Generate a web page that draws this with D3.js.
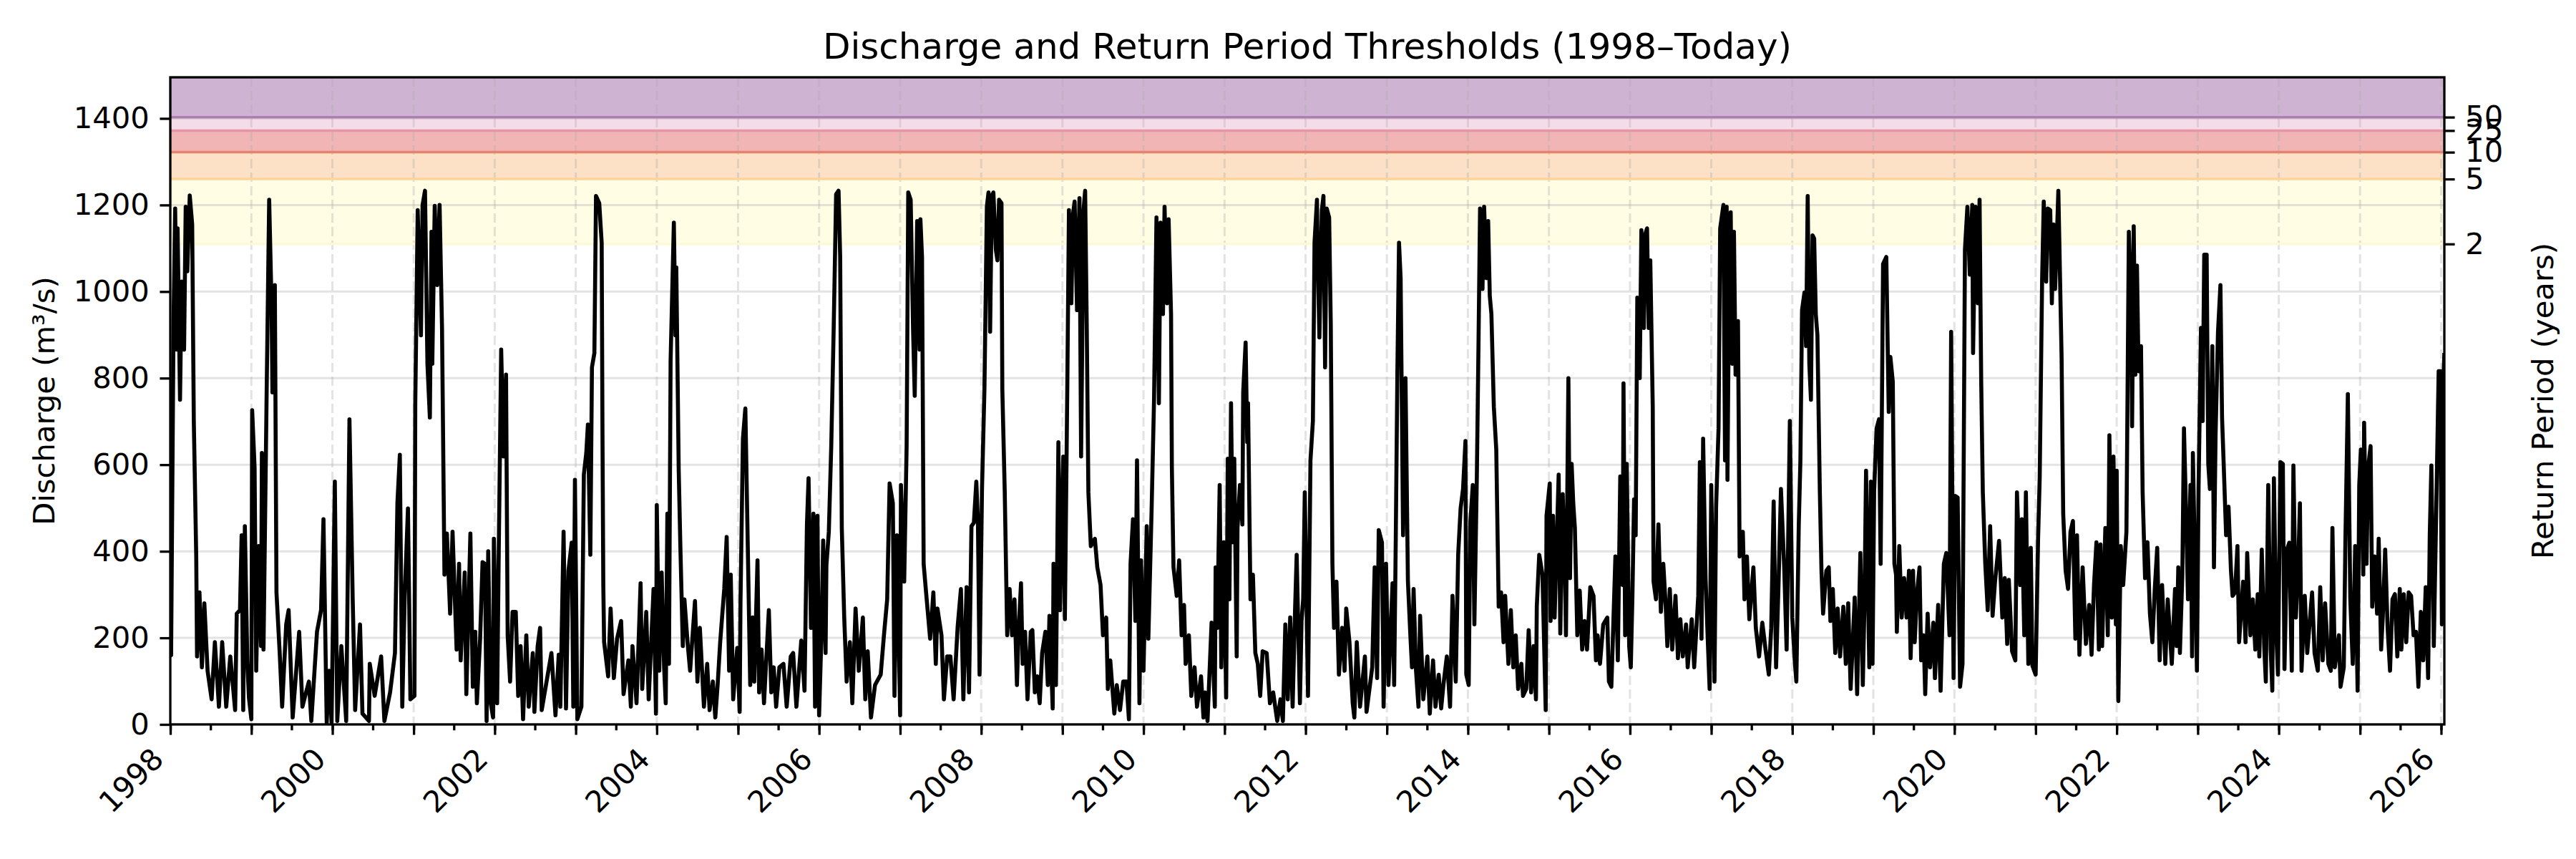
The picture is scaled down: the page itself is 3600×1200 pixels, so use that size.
<!DOCTYPE html>
<html>
<head>
<meta charset="utf-8">
<script src="https://cdn.jsdelivr.net/npm/d3@7"></script>
<style>
  body { margin: 0; background: #fff; }
  text { font-family: "DejaVu Sans", sans-serif; fill: #000; }
</style>
</head>
<body>
<svg id="chart"></svg>
<script>
// return period thresholds (years -> discharge m3/s)
const rpYears = [2, 5, 10, 25, 50];
const rpThresholds = [1110, 1260, 1322, 1372, 1403];
const rpFill = ['#fffde4', '#fce1c6', '#f0b5b4', '#f5dce9', '#cfb3d2'];
const rpLine = ['#fdf9d4', '#ffd39b', '#e8806f', '#e595a6', '#ad7eb4'];

const yMax = 1495;
const yTicks = [0, 200, 400, 600, 800, 1000, 1200, 1400];
const startYear = 1998;

// discharge series, [decimal year, m3/s]
const discharge = [
  [1998.00,400],[1998.01,160],[1998.04,932],[1998.06,1192],[1998.08,866],[1998.09,1146],[1998.12,750],[1998.14,1023],
  [1998.17,866],[1998.19,1196],[1998.21,1047],[1998.24,1222],[1998.27,1155],[1998.29,701],[1998.32,388],[1998.33,157],
  [1998.36,305],[1998.39,132],[1998.42,280],[1998.46,124],[1998.51,58],[1998.55,190],[1998.60,41],[1998.64,190],
  [1998.69,41],[1998.74,157],[1998.80,33],[1998.82,256],[1998.86,264],[1998.88,437],[1998.90,33],[1998.92,458],
  [1998.95,148],[1998.97,62],[1999.00,12],[1999.01,726],[1999.04,594],[1999.06,124],[1999.09,412],[1999.12,181],
  [1999.13,627],[1999.15,173],[1999.19,784],[1999.22,1212],[1999.25,965],[1999.26,767],[1999.29,1015],[1999.31,305],
  [1999.35,165],[1999.38,41],[1999.43,231],[1999.46,264],[1999.51,16],[1999.59,214],[1999.63,41],[1999.71,99],
  [1999.74,8],[1999.81,214],[1999.86,264],[1999.89,474],[1999.93,4],[1999.96,124],[1999.99,4],[2000.03,561],
  [2000.06,8],[2000.11,181],[2000.17,8],[2000.21,705],[2000.25,289],[2000.28,33],[2000.34,231],[2000.37,25],
  [2000.45,8],[2000.46,140],[2000.52,66],[2000.60,157],[2000.64,8],[2000.71,74],[2000.77,165],[2000.80,511],
  [2000.83,623],[2000.86,41],[2000.89,297],[2000.93,499],[2000.96,58],[2001.01,66],[2001.02,742],[2001.05,1188],
  [2001.09,899],[2001.11,1200],[2001.14,1233],[2001.17,833],[2001.20,709],[2001.22,1138],[2001.23,833],[2001.26,1198],
  [2001.29,1015],[2001.32,1200],[2001.35,916],[2001.38,346],[2001.41,441],[2001.45,256],[2001.48,445],[2001.53,173],
  [2001.56,371],[2001.58,148],[2001.63,351],[2001.65,70],[2001.70,441],[2001.73,87],[2001.76,214],[2001.78,49],
  [2001.82,198],[2001.85,375],[2001.88,371],[2001.90,8],[2001.92,400],[2001.95,49],[2001.98,16],[2001.99,429],
  [2002.03,49],[2002.05,400],[2002.08,866],[2002.11,619],[2002.14,808],[2002.16,206],[2002.19,99],[2002.22,260],
  [2002.26,260],[2002.29,66],[2002.32,181],[2002.35,12],[2002.39,206],[2002.42,41],[2002.47,165],[2002.49,29],
  [2002.53,181],[2002.56,223],[2002.58,33],[2002.64,99],[2002.70,165],[2002.75,21],[2002.79,161],[2002.81,41],
  [2002.85,445],[2002.88,37],[2002.91,355],[2002.95,420],[2002.97,41],[2002.99,565],[2003.02,12],[2003.07,41],
  [2003.10,577],[2003.13,627],[2003.15,693],[2003.18,392],[2003.20,825],[2003.23,858],[2003.25,1221],[2003.29,1204],
  [2003.32,1113],[2003.33,668],[2003.34,322],[2003.35,190],[2003.40,111],[2003.43,268],[2003.47,107],[2003.51,198],
  [2003.56,239],[2003.59,70],[2003.65,148],[2003.68,41],[2003.70,181],[2003.75,49],[2003.80,326],[2003.82,82],
  [2003.87,260],[2003.90,58],[2003.96,313],[2003.99,25],[2004.00,507],[2004.03,124],[2004.06,351],[2004.09,132],
  [2004.11,49],[2004.13,487],[2004.15,140],[2004.17,841],[2004.21,1159],[2004.23,899],[2004.24,1056],[2004.27,586],
  [2004.29,412],[2004.32,181],[2004.34,289],[2004.38,186],[2004.41,124],[2004.47,285],[2004.50,99],[2004.53,223],
  [2004.58,41],[2004.62,140],[2004.65,33],[2004.69,99],[2004.72,16],[2004.75,95],[2004.78,190],[2004.83,313],
  [2004.86,433],[2004.89,124],[2004.91,346],[2004.94,58],[2004.99,177],[2005.02,29],[2005.03,280],[2005.06,660],
  [2005.09,730],[2005.12,412],[2005.15,91],[2005.18,247],[2005.20,99],[2005.24,379],[2005.26,74],[2005.29,173],
  [2005.32,49],[2005.38,264],[2005.41,74],[2005.44,132],[2005.47,41],[2005.51,132],[2005.56,140],[2005.60,41],
  [2005.65,157],[2005.68,165],[2005.72,41],[2005.78,194],[2005.82,78],[2005.85,462],[2005.87,569],[2005.90,223],
  [2005.93,487],[2005.95,41],[2005.98,482],[2006.00,21],[2006.03,214],[2006.05,425],[2006.08,165],[2006.09,367],
  [2006.12,445],[2006.15,643],[2006.18,915],[2006.21,1225],[2006.24,1233],[2006.26,1080],[2006.28,454],[2006.31,247],
  [2006.34,99],[2006.38,190],[2006.41,49],[2006.45,268],[2006.49,124],[2006.54,247],[2006.57,58],[2006.60,169],
  [2006.64,16],[2006.69,91],[2006.76,115],[2006.80,206],[2006.84,289],[2006.87,557],[2006.91,511],[2006.93,66],
  [2006.96,437],[2007.00,21],[2007.01,553],[2007.05,330],[2007.08,643],[2007.10,1229],[2007.13,1212],[2007.16,907],
  [2007.18,759],[2007.21,1163],[2007.24,866],[2007.25,1167],[2007.27,1080],[2007.29,371],[2007.32,305],[2007.37,198],
  [2007.41,305],[2007.44,140],[2007.46,268],[2007.51,206],[2007.54,58],[2007.58,157],[2007.62,157],[2007.66,58],
  [2007.71,227],[2007.75,313],[2007.78,58],[2007.82,317],[2007.85,74],[2007.88,458],[2007.91,466],[2007.94,561],
  [2007.96,466],[2007.98,115],[2008.01,544],[2008.04,775],[2008.07,1196],[2008.09,1229],[2008.11,907],[2008.13,1221],
  [2008.15,1229],[2008.18,1097],[2008.20,1072],[2008.22,1212],[2008.25,1204],[2008.26,775],[2008.29,536],[2008.32,206],
  [2008.35,313],[2008.38,206],[2008.41,289],[2008.44,91],[2008.46,214],[2008.49,326],[2008.51,140],[2008.54,214],
  [2008.57,58],[2008.61,214],[2008.63,218],[2008.66,74],[2008.69,111],[2008.72,49],[2008.75,165],[2008.79,214],
  [2008.82,91],[2008.84,251],[2008.88,37],[2008.89,371],[2008.92,91],[2008.95,652],[2008.97,264],[2008.99,454],
  [2009.01,619],[2009.03,243],[2009.06,784],[2009.08,1188],[2009.11,973],[2009.13,1179],[2009.15,1208],[2009.18,957],
  [2009.21,1216],[2009.23,619],[2009.26,1188],[2009.28,1233],[2009.30,916],[2009.32,536],[2009.35,412],[2009.40,429],
  [2009.43,363],[2009.47,322],[2009.50,206],[2009.54,247],[2009.56,82],[2009.59,148],[2009.64,25],[2009.67,91],
  [2009.71,33],[2009.75,99],[2009.79,99],[2009.82,12],[2009.84,371],[2009.87,474],[2009.90,239],[2009.92,610],
  [2009.95,49],[2009.97,379],[2010.00,124],[2010.04,458],[2010.06,198],[2010.10,495],[2010.13,750],[2010.16,1171],
  [2010.19,742],[2010.21,1159],[2010.24,948],[2010.26,1196],[2010.29,973],[2010.31,1167],[2010.34,948],[2010.35,594],
  [2010.37,363],[2010.41,297],[2010.44,379],[2010.47,206],[2010.50,276],[2010.52,140],[2010.56,206],[2010.59,66],
  [2010.63,132],[2010.66,41],[2010.71,111],[2010.74,16],[2010.76,74],[2010.79,8],[2010.84,235],[2010.88,41],
  [2010.89,363],[2010.91,223],[2010.94,553],[2010.96,132],[2010.99,421],[2011.02,62],[2011.04,614],[2011.06,289],
  [2011.08,742],[2011.10,421],[2011.12,614],[2011.15,157],[2011.16,454],[2011.19,553],[2011.22,462],[2011.23,767],
  [2011.26,882],[2011.28,652],[2011.29,742],[2011.32,289],[2011.35,346],[2011.38,165],[2011.41,140],[2011.44,66],
  [2011.47,169],[2011.52,165],[2011.56,49],[2011.60,74],[2011.65,8],[2011.69,58],[2011.72,8],[2011.75,231],
  [2011.78,58],[2011.81,247],[2011.84,41],[2011.87,264],[2011.89,392],[2011.93,49],[2011.95,239],[2011.97,289],
  [2011.99,536],[2012.03,66],[2012.06,610],[2012.09,701],[2012.11,1113],[2012.14,1212],[2012.15,1072],[2012.17,894],
  [2012.20,1188],[2012.22,1221],[2012.24,825],[2012.26,1192],[2012.29,1171],[2012.31,924],[2012.33,371],[2012.35,223],
  [2012.38,330],[2012.41,115],[2012.45,223],[2012.48,124],[2012.50,268],[2012.54,190],[2012.58,49],[2012.60,16],
  [2012.63,190],[2012.67,41],[2012.73,157],[2012.75,29],[2012.82,132],[2012.85,363],[2012.88,107],[2012.90,449],
  [2012.94,420],[2012.96,41],[2012.99,371],[2013.02,91],[2013.07,326],[2013.09,91],[2013.11,429],[2013.13,817],
  [2013.15,1113],[2013.17,1031],[2013.20,437],[2013.23,800],[2013.26,330],[2013.29,206],[2013.31,132],[2013.33,313],
  [2013.36,124],[2013.39,41],[2013.41,251],[2013.45,58],[2013.50,157],[2013.53,25],[2013.57,148],[2013.60,41],
  [2013.64,115],[2013.67,37],[2013.70,95],[2013.74,157],[2013.78,41],[2013.81,297],[2013.85,99],[2013.88,392],
  [2013.91,499],[2013.94,544],[2013.97,655],[2013.98,115],[2014.01,91],[2014.03,466],[2014.06,553],[2014.08,231],
  [2014.11,569],[2014.13,866],[2014.15,1192],[2014.18,1006],[2014.20,1196],[2014.23,1031],[2014.25,1163],[2014.27,990],
  [2014.29,948],[2014.32,734],[2014.35,635],[2014.38,272],[2014.41,305],[2014.44,190],[2014.46,297],[2014.50,140],
  [2014.53,264],[2014.56,132],[2014.59,206],[2014.62,82],[2014.66,140],[2014.68,66],[2014.72,82],[2014.75,218],
  [2014.78,74],[2014.81,181],[2014.84,58],[2014.85,272],[2014.88,392],[2014.92,346],[2014.96,33],[2014.97,482],
  [2015.01,557],[2015.02,239],[2015.05,482],[2015.07,247],[2015.12,577],[2015.14,210],[2015.17,532],[2015.20,330],
  [2015.21,206],[2015.24,800],[2015.26,338],[2015.28,602],[2015.30,511],[2015.32,454],[2015.35,206],[2015.38,309],
  [2015.41,173],[2015.44,239],[2015.47,173],[2015.51,317],[2015.55,297],[2015.58,148],[2015.60,206],[2015.63,140],
  [2015.67,231],[2015.72,247],[2015.74,99],[2015.77,87],[2015.79,206],[2015.82,388],[2015.85,148],[2015.88,573],
  [2015.91,322],[2015.92,788],[2015.94,206],[2015.96,602],[2015.99,181],[2016.01,132],[2016.03,297],[2016.05,520],
  [2016.07,437],[2016.09,986],[2016.12,800],[2016.14,1142],[2016.17,916],[2016.19,1134],[2016.21,1146],[2016.23,916],
  [2016.25,1072],[2016.28,734],[2016.29,330],[2016.32,289],[2016.35,462],[2016.38,260],[2016.41,371],[2016.44,272],
  [2016.46,181],[2016.49,313],[2016.52,173],[2016.56,297],[2016.59,153],[2016.62,243],[2016.65,157],[2016.69,231],
  [2016.71,132],[2016.76,243],[2016.79,132],[2016.84,297],[2016.86,606],[2016.88,198],[2016.90,660],[2016.93,338],
  [2016.96,181],[2016.98,82],[2017.00,553],[2017.04,99],[2017.06,503],[2017.09,684],[2017.11,1146],[2017.15,1200],
  [2017.17,610],[2017.19,1196],[2017.20,565],[2017.22,1031],[2017.24,1183],[2017.26,833],[2017.28,1138],[2017.30,808],
  [2017.33,932],[2017.35,388],[2017.39,445],[2017.41,289],[2017.44,388],[2017.47,243],[2017.52,363],[2017.55,223],
  [2017.59,157],[2017.63,235],[2017.67,173],[2017.71,115],[2017.74,223],[2017.77,515],[2017.80,132],[2017.83,322],
  [2017.86,544],[2017.90,363],[2017.93,173],[2017.97,701],[2018.00,247],[2018.03,148],[2018.05,99],[2018.08,462],
  [2018.10,610],[2018.12,957],[2018.15,998],[2018.17,874],[2018.19,1221],[2018.21,833],[2018.23,750],[2018.25,1130],
  [2018.27,1122],[2018.29,948],[2018.31,899],[2018.34,536],[2018.36,355],[2018.38,256],[2018.42,355],[2018.45,363],
  [2018.47,239],[2018.50,313],[2018.53,165],[2018.56,268],[2018.59,157],[2018.63,272],[2018.66,140],[2018.69,280],
  [2018.72,82],[2018.75,206],[2018.77,293],[2018.80,70],[2018.84,396],[2018.87,91],[2018.89,272],[2018.91,586],
  [2018.95,132],[2018.97,561],[2018.99,140],[2019.01,540],[2019.04,684],[2019.07,705],[2019.09,371],[2019.12,1064],
  [2019.16,1080],[2019.19,722],[2019.21,849],[2019.24,792],[2019.26,371],[2019.28,346],[2019.29,214],[2019.32,412],
  [2019.35,247],[2019.38,338],[2019.41,247],[2019.44,355],[2019.46,153],[2019.49,355],[2019.51,190],[2019.54,305],
  [2019.57,363],[2019.59,148],[2019.62,206],[2019.64,70],[2019.67,256],[2019.70,132],[2019.74,235],[2019.76,107],
  [2019.80,276],[2019.83,78],[2019.87,371],[2019.90,396],[2019.94,206],[2019.96,907],[2019.99,107],[2020.01,528],
  [2020.04,524],[2020.07,87],[2020.10,140],[2020.13,1097],[2020.16,1196],[2020.19,1039],[2020.22,1200],[2020.23,858],
  [2020.26,1196],[2020.29,973],[2020.31,1212],[2020.33,792],[2020.35,536],[2020.38,371],[2020.41,264],[2020.44,458],
  [2020.47,251],[2020.50,330],[2020.55,424],[2020.59,247],[2020.62,338],[2020.65,186],[2020.67,334],[2020.71,169],
  [2020.75,148],[2020.77,536],[2020.81,322],[2020.83,474],[2020.86,206],[2020.88,536],[2020.91,140],[2020.94,408],
  [2020.96,136],[2021.00,115],[2021.03,429],[2021.05,569],[2021.08,1031],[2021.10,1208],[2021.13,1023],[2021.15,1192],
  [2021.18,1188],[2021.20,973],[2021.22,1155],[2021.24,1006],[2021.26,1113],[2021.28,1233],[2021.30,1039],[2021.32,849],
  [2021.34,487],[2021.37,355],[2021.40,313],[2021.43,445],[2021.46,470],[2021.49,198],[2021.51,437],[2021.54,161],
  [2021.58,363],[2021.62,186],[2021.66,276],[2021.69,161],[2021.72,322],[2021.75,421],[2021.78,173],[2021.80,416],
  [2021.82,181],[2021.86,454],[2021.89,206],[2021.91,668],[2021.94,247],[2021.96,619],[2021.99,231],[2022.00,586],
  [2022.02,54],[2022.05,412],[2022.08,322],[2022.12,445],[2022.15,1138],[2022.18,948],[2022.19,689],[2022.21,1151],
  [2022.23,808],[2022.25,1060],[2022.27,816],[2022.30,874],[2022.32,536],[2022.35,338],[2022.38,421],[2022.41,256],
  [2022.44,190],[2022.47,313],[2022.50,408],[2022.53,148],[2022.56,322],[2022.60,140],[2022.63,289],[2022.68,140],
  [2022.72,313],[2022.74,181],[2022.76,363],[2022.78,165],[2022.81,346],[2022.83,684],[2022.85,536],[2022.88,289],
  [2022.91,553],[2022.93,157],[2022.94,627],[2022.97,330],[2022.99,124],[2023.01,544],[2023.04,916],[2023.06,701],
  [2023.08,1085],[2023.11,1085],[2023.13,602],[2023.15,544],[2023.18,874],[2023.20,363],[2023.22,668],[2023.25,907],
  [2023.28,1015],[2023.30,709],[2023.32,602],[2023.35,437],[2023.38,503],[2023.41,355],[2023.43,297],[2023.46,305],
  [2023.49,412],[2023.51,190],[2023.56,330],[2023.59,190],[2023.61,396],[2023.65,206],[2023.68,289],[2023.71,173],
  [2023.74,301],[2023.76,157],[2023.79,404],[2023.82,181],[2023.84,99],[2023.87,553],[2023.90,173],[2023.92,78],
  [2023.94,569],[2023.97,206],[2023.99,115],[2024.02,606],[2024.05,602],[2024.07,128],[2024.10,404],[2024.13,420],
  [2024.16,124],[2024.18,598],[2024.21,247],[2024.24,371],[2024.26,511],[2024.28,124],[2024.32,297],[2024.35,165],
  [2024.41,305],[2024.44,165],[2024.48,124],[2024.51,317],[2024.54,148],[2024.57,280],[2024.61,140],[2024.64,124],
  [2024.66,454],[2024.69,132],[2024.74,206],[2024.76,87],[2024.80,132],[2024.82,429],[2024.85,763],[2024.88,289],
  [2024.91,140],[2024.94,412],[2024.97,78],[2024.99,553],[2025.01,635],[2025.04,346],[2025.05,697],[2025.08,371],
  [2025.10,594],[2025.13,643],[2025.15,272],[2025.18,388],[2025.21,256],[2025.23,429],[2025.26,173],[2025.28,247],
  [2025.31,404],[2025.34,223],[2025.37,124],[2025.40,289],[2025.43,301],[2025.46,157],[2025.49,313],[2025.51,173],
  [2025.54,301],[2025.57,190],[2025.60,305],[2025.63,297],[2025.66,206],[2025.69,214],[2025.72,87],[2025.75,260],
  [2025.78,148],[2025.81,317],[2025.84,107],[2025.86,437],[2025.88,598],[2025.91,181],[2025.94,495],[2025.97,816],
  [2025.99,816],[2026.01,231],[2026.03,800],[2026.04,858]
];

const width = 3600, height = 1200;
const margin = {top: 108, right: 184, bottom: 188, left: 238};
const innerW = width - margin.left - margin.right;
const innerH = height - margin.top - margin.bottom;

const fs = 41.7;        // 10pt @ 300dpi
const majorLen = 14.6, minorLen = 8.3, tickPad = 14.6, spineW = 3.3;

// decimal year -> Date
function toDate(y) {
  const y0 = Math.floor(y + 1e-9);
  const a = Date.UTC(y0, 0, 1), b = Date.UTC(y0 + 1, 0, 1);
  return new Date(a + (y - y0) * (b - a));
}

const series = discharge.map(d => ({date: toDate(d[0]), value: d[1]}));

const svg = d3.select('#chart')
  .attr('width', width)
  .attr('height', height);

const chart = svg.append('g')
  .attr('transform', `translate(${margin.left},${margin.top})`);

const x = d3.scaleUtc()
  .domain([toDate(startYear), series[series.length - 1].date])
  .range([0, innerW]);

const y = d3.scaleLinear()
  .domain([0, yMax])
  .range([innerH, 0]);

chart.append('clipPath').attr('id', 'plot-clip')
  .append('rect').attr('width', innerW).attr('height', innerH);

const plot = chart.append('g').attr('clip-path', 'url(#plot-clip)');

// return period bands
plot.selectAll('.band')
  .data(rpThresholds)
  .join('rect')
    .attr('class', 'band')
    .attr('x', 0)
    .attr('width', innerW)
    .attr('y', (d, i) => y(i < rpThresholds.length - 1 ? rpThresholds[i + 1] : yMax))
    .attr('height', (d, i) => y(d) - y(i < rpThresholds.length - 1 ? rpThresholds[i + 1] : yMax))
    .attr('fill', (d, i) => rpFill[i]);

// grid
const years = d3.utcYear.range(toDate(startYear + 1), x.domain()[1]);
plot.selectAll('.vgrid')
  .data(years)
  .join('line')
    .attr('class', 'vgrid')
    .attr('x1', d => x(d)).attr('x2', d => x(d))
    .attr('y1', 0).attr('y2', innerH)
    .attr('stroke', '#b0b0b0')
    .attr('stroke-opacity', 0.35)
    .attr('stroke-width', 3)
    .attr('stroke-dasharray', '13,6');

plot.selectAll('.hgrid')
  .data(yTicks)
  .join('line')
    .attr('class', 'hgrid')
    .attr('x1', 0).attr('x2', innerW)
    .attr('y1', d => y(d)).attr('y2', d => y(d))
    .attr('stroke', '#b0b0b0')
    .attr('stroke-opacity', 0.35)
    .attr('stroke-width', 3);

// threshold lines
plot.selectAll('.rpline')
  .data(rpThresholds)
  .join('line')
    .attr('class', 'rpline')
    .attr('x1', 0).attr('x2', innerW)
    .attr('y1', d => y(d)).attr('y2', d => y(d))
    .attr('stroke', (d, i) => rpLine[i])
    .attr('stroke-width', 3.5);

// discharge line
const line = d3.line()
  .x(d => x(d.date))
  .y(d => y(d.value));

plot.append('path')
  .datum(series)
  .attr('fill', 'none')
  .attr('stroke', '#000')
  .attr('stroke-width', 5.6)
  .attr('stroke-linejoin', 'round')
  .attr('d', line);

// spines
chart.append('rect')
  .attr('width', innerW)
  .attr('height', innerH)
  .attr('fill', 'none')
  .attr('stroke', '#000')
  .attr('stroke-width', spineW);

function styleAxis(g) {
  g.select('.domain').remove();
  g.selectAll('.tick line').attr('stroke', '#000').attr('stroke-width', spineW);
  g.selectAll('.tick text')
    .attr('font-family', '"DejaVu Sans", sans-serif')
    .attr('font-size', fs)
    .attr('fill', '#000');
}

// left axis
chart.append('g')
  .call(d3.axisLeft(y).tickValues(yTicks).tickFormat(d3.format('d'))
    .tickSize(majorLen).tickPadding(tickPad))
  .call(styleAxis);

// right axis, return periods
chart.append('g')
  .attr('transform', `translate(${innerW},0)`)
  .call(d3.axisRight(y).tickValues(rpThresholds)
    .tickFormat((d, i) => rpYears[i]).tickSize(majorLen).tickPadding(tickPad))
  .call(styleAxis);

// bottom axis: yearly major ticks, half-year minor ticks
const majorYears = d3.utcYear.range(toDate(startYear), x.domain()[1]);
chart.append('g')
  .attr('transform', `translate(0,${innerH})`)
  .call(d3.axisBottom(x).tickValues(d3.utcMonth.every(6).range(toDate(startYear), x.domain()[1]))
    .tickSize(minorLen).tickFormat(''))
  .call(styleAxis);

chart.append('g')
  .attr('transform', `translate(0,${innerH})`)
  .call(d3.axisBottom(x).tickValues(majorYears).tickSize(majorLen).tickFormat(''))
  .call(styleAxis);

const labelYears = majorYears.filter(d => d.getUTCFullYear() % 2 === 0);
chart.selectAll('.xlabel')
  .data(labelYears)
  .join('text')
    .attr('class', 'xlabel')
    .attr('font-size', fs)
    .attr('text-anchor', 'end')
    .attr('transform', d => `translate(${x(d) - 7},${innerH + 51}) rotate(-45)`)
    .text(d => d.getUTCFullYear());

// axis titles
svg.append('text')
  .attr('font-size', fs)
  .attr('text-anchor', 'middle')
  .attr('transform', `translate(76,${margin.top + innerH / 2}) rotate(-90)`)
  .text('Discharge (m³/s)');

svg.append('text')
  .attr('font-size', fs)
  .attr('text-anchor', 'middle')
  .attr('transform', `translate(3568,${margin.top + innerH / 2}) rotate(-90)`)
  .text('Return Period (years)');

svg.append('text')
  .attr('font-size', 50)
  .attr('text-anchor', 'middle')
  .attr('x', margin.left + innerW / 2)
  .attr('y', 82)
  .text('Discharge and Return Period Thresholds (1998–Today)');
</script>
</body>
</html>
